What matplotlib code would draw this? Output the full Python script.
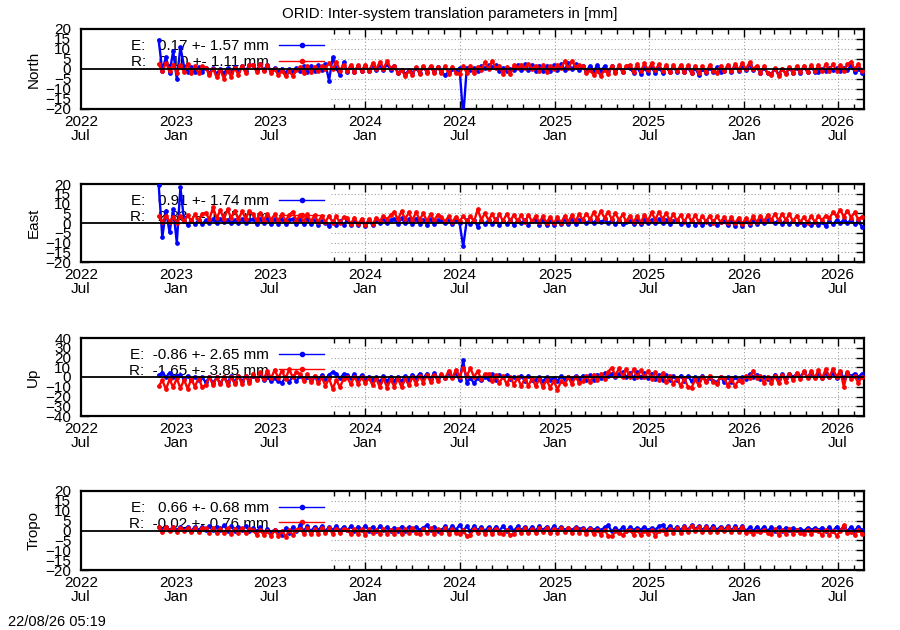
import numpy as np
import pandas as pd
import matplotlib
matplotlib.use('Agg')
import matplotlib.pyplot as plt
import matplotlib.dates as mdates
from matplotlib.patches import Rectangle

plt.rcParams['font.family'] = ['Liberation Sans', 'DejaVu Sans']

# weekly samples (mm)
dates = pd.date_range('2022-11-28', periods=195, freq='7D')

north_e = [
    14.5, -1.0, 6.0, -2.0, 9.0, -5.0, 11.0, 1.2, -1.4, 0.9, -1.6, 1.0, -1.3,
    0.6, -2.0, 0.3, -2.4, 0.2, -2.2, 0.5, -1.8, 1.2, -1.2, 1.5, -0.8, 1.8,
    2.0, -0.6, 2.3, -0.4, 1.9, -0.8, 0.5, -1.3, 0.2, -1.8, 0.0, -1.4, 0.4,
    -1.2, 1.5, -1.4, 1.6, -0.9, 1.8, -0.7, 2.5, -5.8, 5.8, 0.4, -3.0, 3.3,
    -1.5, 1.2, -1.3, 1.5, -1.0, 1.6, -0.8, 1.9, -0.5, 2.2, -0.4, 2.4, -0.3,
    1.3, -1.9, -0.4, -2.6, -0.6, -1.8, 0.7, -2.0, 1.1, -1.5, 1.2, -1.7, 0.8,
    -1.6, -3.0, -1.4, 0.0, -0.8, 0.5, -24.0, 0.7, -0.6, 0.4, -0.9, 1.6, 0.4,
    1.8, 0.8, 1.9, -1.0, 0.3, -0.9, 0.1, -0.6, 2.0, -0.5, 2.3, -0.4, 1.9,
    -0.8, 1.7, -1.1, 1.5, -0.9, 1.8, -0.7, 2.5, -0.3, 2.8, -0.1, 2.4, -0.4,
    1.5, -1.0, 1.6, -0.9, 1.8, -0.8, 1.4, -1.2, 1.3, -1.4, 1.2, -1.5, 1.0,
    0.6, -2.0, 0.8, -2.3, 0.4, -1.9, 0.8, -2.1, 0.7, -1.8, 1.0, -1.6, 0.8,
    -1.3, 1.2, -1.7, 0.8, -2.2, 0.4, -2.8, 0.2, -2.2, 0.7, -1.7, 0.9, -1.5,
    -1.2, 1.4, -1.4, 1.6, -0.9, 2.0, -0.7, 2.2, -0.6, 0.8, -1.9, 0.7, -2.2,
    -2.4, 0.2, -2.6, 0.0, -2.2, 0.5, -1.9, 0.7, -1.8, 1.0, -1.6, 1.2, -1.4,
    -1.3, 0.1, -0.8, 0.5, -0.6, 0.4, -0.9, 0.7, -0.7, 2.0, -1.4, 0.2, -1.8,
]
north_r = [
    2.5, -1.2, 3.0, -0.8, 2.2, -1.8, 2.0, -1.5, 2.4, -2.0, 1.6, -2.2, 1.4,
    0.6, -3.2, 0.2, -4.2, -0.5, -4.8, -0.8, -3.8, 0.5, -3.0, 1.4, -2.0, 1.8,
    2.2, -1.4, 2.4, -1.2, 1.8, -1.8, -0.2, -2.8, -0.8, -3.6, -1.2, -3.4, -0.4,
    1.0, -1.8, 1.4, -1.6, 1.2, -1.0, 1.6, 0.2, 3.2, -0.2, 3.6, -0.8, 2.2,
    -1.0, 2.0, -1.4, 1.8, -0.8, 2.2, -1.2, 2.8, -0.2, 3.6, 0.2, 3.8, 0.4,
    1.6, -2.0, -0.6, -3.4, -0.8, -2.8, 1.0, -2.4, 1.4, -1.8, 1.6, -2.2, 1.2,
    -2.0, 1.4, -2.4, 1.2, -1.8, -2.6, 1.4, -2.0, 1.6, -2.2, 1.2, -0.4, 3.4,
    0.0, 4.0, 0.4, 1.4, -2.4, 1.0, -2.6, 1.8, 0.4, 2.2, 0.6, 2.4, 0.2,
    1.6, -1.0, 1.8, -1.4, 1.4, 0.0, 2.0, 0.6, 3.8, 0.4, 4.0, 1.0, 2.0,
    1.4, -2.0, -0.6, -3.0, -1.0, -3.4, -0.4, -2.6, 1.6, -1.8, 1.8, -1.6, 1.7,
    2.0, -1.4, 2.4, -1.0, 2.8, -0.6, 3.0, -0.6, 2.4, -1.2, 2.0, -1.6, 1.8,
    -1.2, 2.0, -1.6, 1.8, -1.8, 1.6, -2.2, 1.4, -1.6, 1.9, -1.2, -1.8, 1.6,
    -0.9, 2.2, -1.0, 2.4, -0.4, 3.0, -0.2, 3.4, 0.0, 1.6, -1.8, 1.4, -2.2,
    -3.0, 0.4, -3.4, 0.2, -2.6, 1.0, -2.0, 1.5, -1.6, 1.7, -1.4, 1.8, -1.1,
    1.8, -1.2, 2.3, -0.9, 2.6, -1.1, 2.1, -0.8, 2.4, 3.6, -0.2, 2.6, -1.2,
]
east_e = [
    19.5, -7.3, 6.3, -4.8, 7.0, -10.0, 18.3, 1.2, -0.8, 1.4, -0.6, 1.6, -0.4,
    1.4, 0.0, 1.8, 0.2, 2.0, 0.4, 1.7, -0.2, 1.6, 0.1, 1.9, -0.1, 1.5,
    2.0, -0.4, 2.2, -0.2, 1.9, -0.6, 1.8, -0.3, 2.1, -0.4, 1.6, 2.0, -0.5,
    1.8, -0.6, 1.9, -0.4, 1.5, -0.9, 1.2, 0.2, -1.6, 1.0, -1.2, 1.2, -0.9,
    1.4, -1.0, 1.2, -1.2, 1.0, -1.5, 0.9, -1.0, 1.4, 0.0, 1.8, 0.2, 1.5,
    2.2, -0.4, 2.4, -0.2, 1.9, -0.6, 2.2, -0.3, 1.7, -0.8, 1.8, -0.4, 1.6,
    1.3, -0.2, 1.6, -0.3, 1.4, 0.0, -12.0, 1.4, -0.6, 1.6, -1.8, 1.2, -0.3,
    1.4, -0.6, 1.8, -1.2, 1.1, -0.4, 1.4, -1.0, 1.3, -0.2, 1.6, -0.8, 1.2,
    1.5, -0.8, 1.7, -1.2, 1.4, -0.9, 1.6, -0.6, 1.9, -0.5, 2.0, -0.4, 1.7,
    1.4, -0.2, 1.6, 0.2, 2.0, 0.4, 1.8, 0.0, 1.3, -0.4, 1.2, -0.6, 0.6,
    1.2, -0.4, 1.4, -0.6, 1.5, -0.2, 1.6, 0.2, 1.8, -0.1, 1.4, -0.5, 1.0,
    1.3, -0.6, 1.2, -1.0, 1.0, -0.8, 0.8, -1.2, 1.0, -0.6, 0.8, -1.1, 0.5,
    1.0, -1.2, 1.1, -1.4, 0.9, -1.6, 0.8, -0.8, 1.2, -0.4, 1.4, -0.2, 1.6,
    1.7, -0.2, 1.6, -0.3, 1.5, -0.4, 1.2, -0.6, 0.6, -1.0, 0.4, -1.2, 0.5,
    -1.2, 0.6, -1.6, 0.8, -0.6, 1.4, -0.2, 1.7, 0.1, 1.6, -0.5, 0.8, -1.8,
]
east_r = [
    3.4, 0.4, 3.8, 0.6, 3.2, 0.2, 3.6, 0.8, 4.0, 1.0, 4.4, 1.4, 4.8,
    5.2, 1.8, 8.0, 2.4, 6.6, 2.0, 7.0, 2.6, 6.4, 1.8, 6.0, 2.2, 6.2,
    4.4, 1.4, 5.0, 1.2, 4.8, 1.6, 4.4, 1.2, 4.6, 1.0, 4.2, 5.8, 1.2,
    4.2, 0.8, 4.4, 0.8, 4.0, 0.6, 3.8, 0.4, 3.8, 0.2, 3.4, 0.0, 3.0,
    2.6, -0.4, 2.8, -0.6, 2.2, -1.2, 2.0, -0.6, 2.6, 1.0, 3.6, 1.8, 4.2,
    5.6, 1.8, 6.0, 2.0, 5.4, 1.4, 5.6, 1.6, 5.0, 1.0, 4.6, 1.4, 4.2,
    3.0, 0.8, 3.4, 0.6, 3.2, 0.8, 3.6, 1.0, 3.4, 0.8, 7.0, 1.6, 5.0,
    1.4, 4.6, 1.0, 4.4, 1.0, 4.6, 1.2, 4.2, 0.8, 4.0, 0.6, 4.0, 0.8,
    3.6, 0.4, 3.4, 0.2, 3.2, -0.2, 3.0, 0.2, 3.6, 0.6, 4.0, 1.0, 4.4,
    1.6, 4.8, 1.8, 5.4, 2.2, 6.0, 2.6, 5.6, 2.0, 5.0, 1.4, 4.4, 0.8,
    3.8, 0.4, 3.6, 0.4, 4.0, 1.2, 5.4, 1.6, 5.8, 2.0, 5.0, 1.4, 4.4,
    1.0, 4.2, 0.6, 4.0, 0.8, 4.0, 0.4, 3.6, 0.6, 3.8, 0.2, 3.4, 0.4,
    3.2, 0.0, 3.0, -0.2, 2.8, -0.4, 2.6, 0.0, 3.4, 0.4, 3.8, 0.8, 4.2,
    1.4, 4.8, 1.2, 4.6, 1.6, 4.4, 0.8, 3.8, 0.4, 3.2, 0.0, 3.6, 0.6,
    3.4, 1.4, 3.8, 2.4, 5.4, 3.6, 6.8, 3.2, 6.4, 2.8, 5.4, 2.0, 3.2,
]
up_e = [
    2.0, 4.5, -0.5, 4.5, 0.0, 1.5, 2.5, -2.5, 1.5, -3.5, 0.5, -3.0, -0.5,
    -5.5, 0.0, -6.0, -0.5, -6.5, -0.5, -5.5, 1.0, -5.0, 1.5, -4.5, 1.0, -4.0,
    1.5, -2.5, 2.5, -3.5, -0.5, -4.0, -1.5, -4.5, -6.0, 0.0, -5.0, 1.0, -4.0,
    1.0, -2.5, 0.5, -3.5, 0.0, -3.0, 2.0, -2.5, 2.5, 5.0, 3.5, -1.5, 3.0,
    2.5, -1.5, 3.0, -2.0, 2.0, -3.0, 0.5, -3.0, 0.0, -5.0, 1.0, -4.5, 0.5,
    -4.0, 0.5, -4.5, 1.0, -3.0, 2.5, -1.0, 3.5, -1.0, 3.5, -2.0, 4.0, -1.0,
    2.5, -1.0, 4.0, 0.0, 4.5, -3.5, 17.0, -6.0, -1.0, -6.5, -1.0, -3.5, 0.0,
    -2.5, 3.0, -3.0, 2.5, -0.5, 2.0, -2.0, 0.5, -1.5, 1.5, -4.0, 1.5, -3.5,
    -3.0, -0.5, -4.5, 0.0, -3.5, -1.0, -4.0, 1.0, -2.5, 0.5, -2.0, 1.0, -2.5,
    1.5, -3.0, 2.0, -3.0, 2.5, -1.0, 4.0, 1.0, 3.5, 0.5, 3.0, 5.0, 0.0,
    4.5, -1.0, 5.0, -0.5, 4.0, -1.5, 3.5, -2.5, 2.5, -3.0, 2.0, -3.5, 1.0,
    -3.5, 1.5, -4.0, 1.0, -4.5, 0.5, -3.0, 1.5, -4.0, -1.0, -4.5, -5.5, 0.0,
    -5.0, 0.0, -5.5, -0.5, -3.5, 0.0, -2.0, 3.0, 0.0, 2.5, -2.5, 0.5, -2.5,
    -3.0, 2.5, -2.5, 3.0, -1.5, 3.5, 0.0, 3.0, 0.5, 5.0, 0.0, 4.5, -0.5,
    4.0, -1.0, 4.5, -0.5, 4.0, -1.5, 5.0, -1.0, 4.0, 1.0, 3.5, 0.5, 3.0,
]
up_r = [
    -9.5, -3.5, -12.5, -2.5, -10.5, -1.5, -11.5, -3.0, -12.0, -2.0, -10.0, -1.0, -10.5,
    -8.0, 0.0, -8.5, -0.5, -7.5, 0.5, -8.0, -0.5, -7.0, 1.0, -7.5, 1.5, -6.5,
    3.5, -3.0, 5.0, -2.0, 6.5, -1.5, 7.5, -1.0, 6.5, -2.0, 8.0, -0.5, 5.0,
    3.0, -4.0, 3.0, -5.0, 1.5, -6.5, -0.5, -9.0, -1.5, -12.0, -3.0, -10.5, -2.0,
    -0.5, -7.5, 0.5, -7.0, -0.5, -6.5, -1.0, -8.5, -1.5, -10.5, -1.0, -11.0, -2.5,
    -10.0, -1.5, -10.5, -1.5, -8.5, 0.0, -7.0, 1.0, -6.0, 2.0, -5.0, 2.5, -4.0,
    3.5, -1.5, 6.5, -1.0, 7.5, 0.0, 9.5, 1.0, 9.0, 0.0, 6.0, -2.5, 3.0,
    3.5, -4.5, 2.0, -6.5, 1.0, -7.5, 0.5, -8.0, -0.5, -9.5, -1.5, -9.0, -1.0,
    -9.5, -2.0, -10.5, -3.0, -11.0, -4.0, -13.0, -4.5, -7.5, 0.0, -7.5, 0.5, -6.0,
    -4.5, 1.5, -5.0, 2.5, -3.5, 3.5, -2.5, 5.5, 9.5, 1.5, 9.0, 0.5, 8.0,
    0.0, 8.0, -0.5, 7.0, 0.0, 6.0, -2.0, 5.0, -3.5, 4.0, -5.5, 1.5, -7.5,
    -1.0, -9.5, -1.5, -10.0, -11.0, -2.5, -8.5, 0.0, -5.5, 1.5, -5.0, -7.0, 0.5,
    -1.0, -9.0, -1.5, -9.5, -3.0, -5.0, 1.5, -1.5, 6.5, -1.0, 1.5, -6.5, 0.5,
    -6.5, 1.0, -6.0, 2.0, -5.0, 3.0, -3.5, 4.5, -2.5, 6.0, -1.5, 6.5, -1.0,
    7.0, -1.5, 8.0, -0.5, 8.5, 0.0, 6.5, -10.0, 5.5, -2.0, 1.0, -6.0, 0.0,
]
tropo_e = [
    1.6, 0.2, 1.9, 0.4, 1.7, 0.3, 1.8, 0.5, 1.9, 0.0, 1.8, 0.2, 2.0,
    0.2, 2.2, 0.1, 2.0, 0.4, 2.6, 0.0, 2.1, -0.2, 1.9, 0.3, 2.2, -0.1,
    1.2, -0.4, 1.6, -0.9, 0.7, -0.6, 0.3, -1.0, -2.2, 1.2, -1.4, 1.9, -0.5,
    2.6, -0.1, 2.1, -0.4, 1.9, 0.1, 2.3, -0.2, 1.8, 0.2, 2.2, 0.0, 1.9,
    0.1, 2.1, -0.1, 2.0, 0.2, 2.5, 0.0, 1.9, -0.2, 2.2, 0.1, 1.8, -0.1,
    1.5, 0.0, 2.0, -0.2, 1.7, 0.4, 1.9, 0.2, 1.5, 2.6, 0.1, 2.0, -0.1,
    0.2, 2.2, -0.1, 2.5, 0.3, 2.8, 0.0, 2.1, -0.4, 2.3, 0.1, 1.9, -0.2,
    1.8, -0.3, 2.0, 0.0, 2.2, -0.2, 1.8, -0.1, 2.1, 0.1, 1.9, -0.1, 2.0,
    0.0, 2.1, 0.2, 1.9, -0.1, 2.2, 0.1, 2.0, 0.3, 1.3, 0.4, 1.6, 0.7,
    1.3, 0.0, 1.5, 0.4, 1.2, 0.1, 1.6, 2.6, -0.5, 1.5, -0.3, 1.7, -0.1,
    1.6, 0.2, 1.4, 0.5, 1.7, 0.2, 1.3, 0.4, 2.1, 2.8, 0.3, 2.3, 0.1,
    2.0, 0.2, 2.4, 0.4, 2.7, 0.7, 2.3, 0.2, 2.2, 0.5, 2.5, 0.3, 2.0,
    0.4, 2.3, 0.1, 2.1, 0.3, 2.4, -0.2, 1.6, -0.3, 1.9, 0.0, 2.0, -0.1,
    1.6, -0.3, 1.8, -0.1, 1.5, 0.5, 1.2, 0.2, 1.0, -0.2, 1.4, 0.4, 1.2,
    0.1, 1.5, -0.4, 1.7, -0.2, 1.9, 0.2, 1.6, -0.1, 1.8, 0.0, 2.0, 0.2,
]
tropo_r = [
    1.6, -0.6, 1.8, -0.4, 1.7, -0.6, 1.5, -0.5, 1.4, -0.9, 1.3, -0.8, 1.2,
    1.2, -1.2, 1.3, -1.4, 1.0, -1.1, 1.2, -1.6, 0.9, -1.3, 1.1, -1.5, 0.8,
    0.2, -2.2, 0.4, -2.4, 0.0, -3.0, 0.3, -2.6, -0.2, -3.2, 0.1, -2.3, 0.4,
    1.0, -1.6, 1.2, -2.0, 0.8, -1.7, 1.2, -1.4, 1.1, -1.8, 0.9, -1.3, 1.0,
    0.5, -2.0, 0.9, -1.7, 0.6, -2.2, 0.8, -1.5, 0.4, -1.9, 1.0, -1.6, 0.5,
    -1.7, 1.0, -1.9, 0.6, -1.5, 1.2, -1.3, -2.0, 0.9, -1.4, 1.1, -1.7, 0.6,
    -1.3, 1.1, -1.6, 0.8, -1.2, -1.8, 0.2, -3.0, -2.2, 1.0, -1.4, 0.9, -1.6,
    0.6, -1.7, 0.9, -1.4, -2.0, 0.4, -2.4, -1.6, 0.8, -1.3, 1.1, -1.5, 0.9,
    -1.2, 1.2, -1.0, 1.3, -1.4, 1.0, -1.1, 1.4, -0.9, 1.1, -1.3, 1.2, -1.1,
    0.6, -1.7, 0.9, -1.9, 0.4, -2.1, 0.2, -2.6, -3.0, -0.4, -1.3, -2.4, 0.0,
    0.2, -2.2, 0.4, -2.5, 0.0, -1.9, 0.3, -2.6, -0.4, 0.5, -1.7, 1.0, -1.2,
    1.2, -1.1, 1.7, -0.6, 2.5, -0.2, 2.0, -0.7, 1.6, -1.0, 1.4, -0.8, 1.3,
    -0.5, 1.7, -0.9, 1.4, -0.6, 1.8, -1.2, -0.4, -1.6, -0.2, -1.0, 0.5, -1.4,
    -1.6, 0.6, -2.1, 0.3, -1.7, 0.9, -1.9, 0.4, -1.5, -2.0, 0.5, -1.7, 0.2,
    -0.1, -2.4, 0.4, -2.3, 0.0, -2.6, -0.4, 2.8, -1.4, -0.6, -2.2, 0.5, -1.6,
]

panels = ['North', 'East', 'Up', 'Tropo']
series_e = [north_e, east_e, up_e, tropo_e]
series_r = [north_r, east_r, up_r, tropo_r]
e_mean = [0.17, 0.91, -0.86, 0.66]
e_std = [1.57, 1.74, 2.65, 0.68]
r_mean = [0.10, 2.33, -1.65, -0.02]
r_std = [1.11, 1.05, 3.85, 0.76]
y_lim = [20, 20, 40, 20]
y_step = [5, 5, 10, 5]

title = 'ORID: Inter-system translation parameters in [mm]'
stamp = '22/08/26 05:19'

W, H = 900, 630
fig = plt.figure(figsize=(9, 6.3), dpi=100)
# axes boxes in pixels: (top, bottom)
boxes = [(29, 109), (184, 262), (338, 416), (491, 570)]
x_left, x_right = 81, 864

for k, name in enumerate(panels):
    top, bot = boxes[k]
    ax = fig.add_axes([x_left / W, 1 - bot / H, (x_right - x_left) / W, (bot - top) / H])
    ax.set_axisbelow(True)
    ax.grid(True, which='major', color='#a0a0a0', linestyle=(0, (1, 2)), linewidth=0.8)
    # opaque key box hides grid on the left side
    ax.add_patch(Rectangle((0, 0), 0.318, 1, transform=ax.transAxes,
                           facecolor='white', edgecolor='none', zorder=1))

    ax.plot(dates, series_e[k], color='#0000ff', lw=1.7, marker='o', ms=2.4,
            mec='#0000ff', label=f'E:  {e_mean[k]:5.2f} +- {e_std[k]:.2f} mm', zorder=3)
    ax.plot(dates, series_r[k], color='#ff0000', lw=1.7, marker='o', ms=2.4,
            mec='#ff0000', label=f'R:  {r_mean[k]:5.2f} +- {r_std[k]:.2f} mm', zorder=3.5)
    ax.axhline(0, color='black', lw=1.3, zorder=4)

    lim = y_lim[k]
    ax.set_ylim(-lim, lim)
    ax.set_yticks(np.arange(-lim, lim + 1, y_step[k]))
    ax.set_xlim(pd.Timestamp('2022-07-01'), pd.Timestamp('2026-08-21'))
    ax.xaxis.set_major_locator(mdates.MonthLocator(bymonth=[1, 7]))
    ax.xaxis.set_minor_locator(mdates.MonthLocator())
    ax.xaxis.set_major_formatter(mdates.DateFormatter('%Y\n%b'))
    ax.tick_params(which='both', direction='in', top=True, right=True,
                   labelsize=11, width=1)
    ax.tick_params(which='major', length=6)
    ax.tick_params(which='minor', length=3.5)
    ax.tick_params(axis='y', pad=7)
    ax.tick_params(axis='x', pad=4)
    for lab in ax.get_xticklabels():
        lab.set_horizontalalignment('center')
        lab.set_multialignment('center')
        lab.set_linespacing(1.0)
    for sp in ax.spines.values():
        sp.set_linewidth(1.6)
    ax.set_ylabel(name, fontsize=11)
    ax.yaxis.set_label_coords(-0.052, 0.5)

    leg = ax.legend(loc='upper right', bbox_to_anchor=(0.31, 0.87), frameon=False,
                    markerfirst=False, numpoints=1, handlelength=2.9,
                    handletextpad=0.7, labelspacing=0.1, borderpad=0,
                    borderaxespad=0, fontsize=11)
    leg.set_zorder(2)
    for h in leg.get_lines():
        h.set_linewidth(1.0)
        h.set_markersize(3)

fig.text(0.5, 1 - 14 / H, title, ha='center', va='center', fontsize=10.8)
fig.text(8 / W, 1 - 622 / H, stamp, ha='left', va='center', fontsize=10.5)

fig.savefig('out.png', dpi=100)
